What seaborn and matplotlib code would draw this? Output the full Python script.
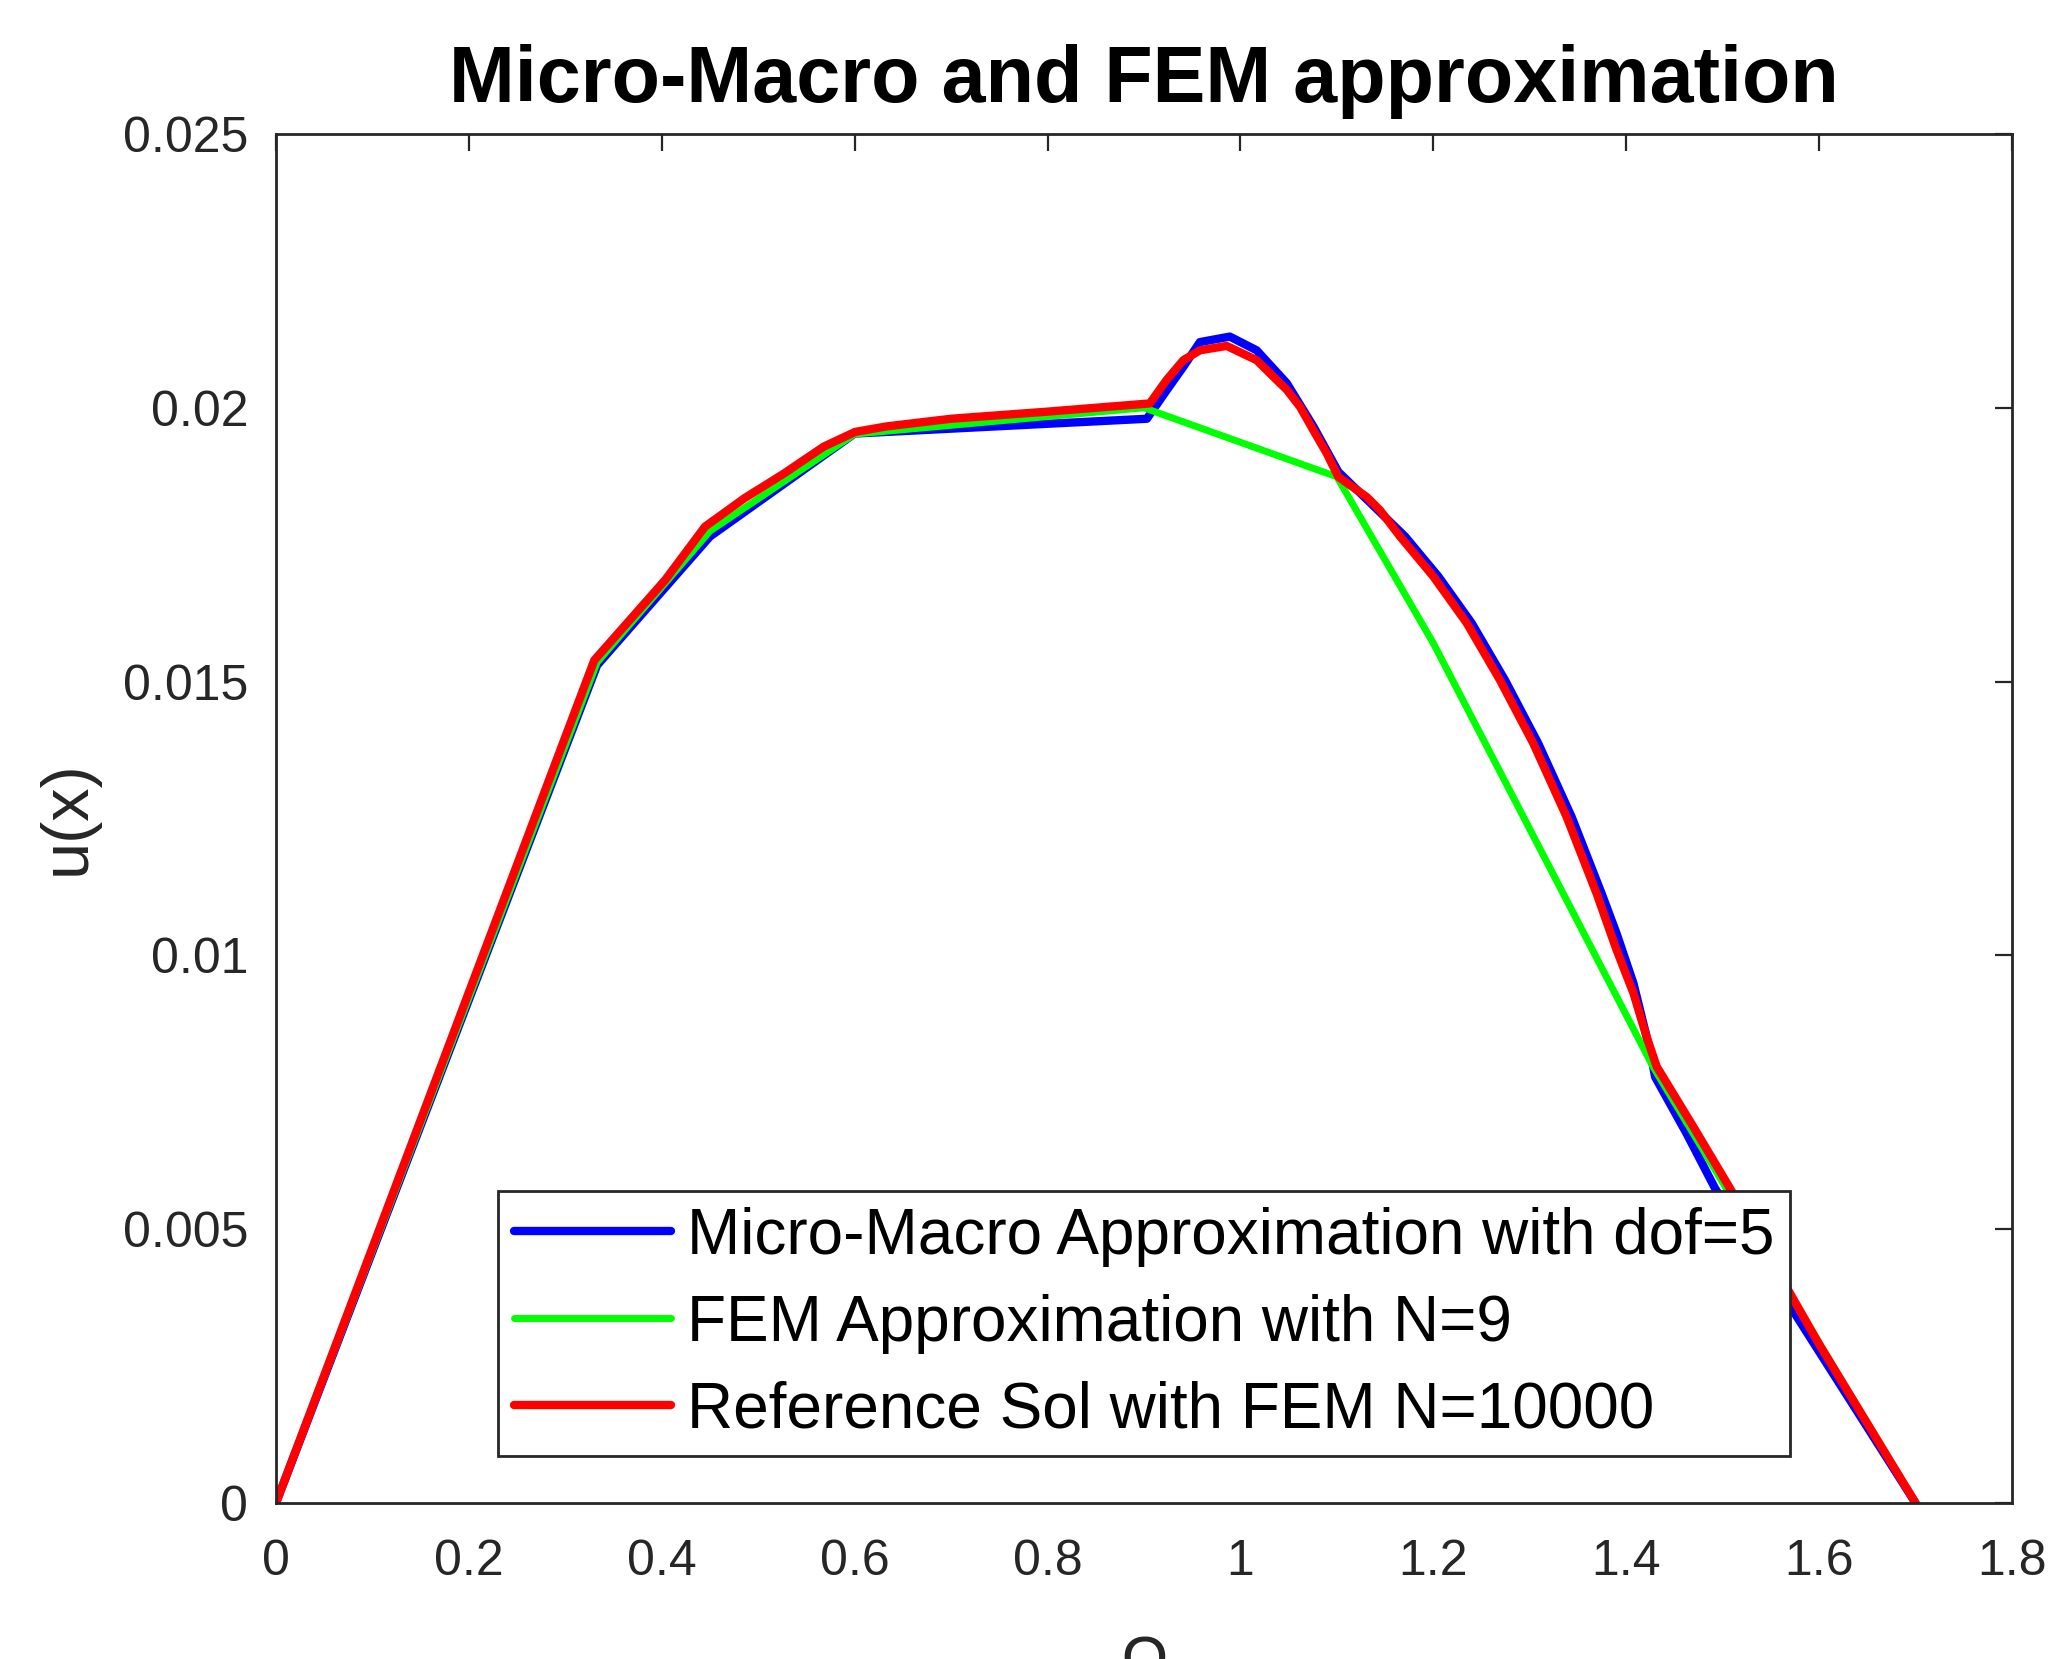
import numpy as np
import pandas as pd
import matplotlib
matplotlib.use("Agg")
import matplotlib.pyplot as plt
import seaborn as sns

# 数据
x_mm = [0, 0.333, 0.45, 0.6, 0.903, 0.9235, 0.9408, 0.958, 0.989, 1.0168, 1.048,
        1.0756, 1.1015, 1.1707, 1.2052, 1.2397, 1.2742, 1.3088, 1.3434, 1.3745, 1.390,
        1.4075, 1.4246, 1.430, 1.4625, 1.492, 1.7]
u_mm = [0, 0.0153, 0.01765, 0.01953, 0.0198, 0.02032, 0.02075, 0.0212, 0.0213, 0.02105, 0.02045,
        0.01966, 0.01883, 0.01765, 0.01692, 0.01607, 0.01503, 0.01387, 0.01253, 0.01113, 0.0104,
        0.00949, 0.00827, 0.00778, 0.00675, 0.00575, 0]

x_fem = [0, 0.333, 0.45, 0.6, 0.9, 1.1, 1.2, 1.428, 1.7]
u_fem = [0, 0.01535, 0.01775, 0.01952, 0.0200, 0.01874, 0.0157, 0.00796, 0]

x_ref = [0, 0.33, 0.4037, 0.4448, 0.4858, 0.5267, 0.5678, 0.6005, 0.633, 0.7, 0.8,
         0.906, 0.9235, 0.9408, 0.958, 0.9857, 1.0168, 1.034, 1.048, 1.0617, 1.0756, 1.0894,
         1.1015, 1.131, 1.1447, 1.1655, 1.2, 1.2346, 1.269, 1.3037, 1.3382, 1.3693,
         1.390, 1.4075, 1.421, 1.4316, 1.4696, 1.5075, 1.6, 1.7]
u_ref = [0, 0.01539, 0.01686, 0.01783, 0.01835, 0.0188, 0.01929, 0.01956, 0.01966, 0.0198, 0.01993,
         0.02008, 0.02051, 0.02087, 0.02105, 0.02113, 0.02087, 0.02057, 0.02033, 0.02002, 0.01959, 0.01917,
         0.01874, 0.01837, 0.01813, 0.01765, 0.01692, 0.01607, 0.01503, 0.01387, 0.01253, 0.01113,
         0.0101, 0.00931, 0.00852, 0.00797, 0.00687, 0.00575, 0.0029, 0]

labels = ["Micro-Macro Approximation with dof=5",
          "FEM Approximation with N=9",
          "Reference Sol with FEM N=10000"]
colors = ["#0000ff", "#00ff00", "#ff0000"]

xticks = [0, 0.2, 0.4, 0.6, 0.8, 1, 1.2, 1.4, 1.6, 1.8]
xtick_labels = ["0", "0.2", "0.4", "0.6", "0.8", "1", "1.2", "1.4", "1.6", "1.8"]
yticks = [0, 0.005, 0.01, 0.015, 0.02, 0.025]
ytick_labels = ["0", "0.005", "0.01", "0.015", "0.02", "0.025"]

sns.set_theme(style="white")
plt.rcParams["font.family"] = ["Liberation Sans", "DejaVu Sans"]

W, H = 2053, 1659
fig = plt.figure(figsize=(W / 100, H / 100), dpi=100)
ax = fig.add_axes([276 / W, 1 - 1503 / H, 1736 / W, 1369 / H])

dark = "#262626"

series = [(x_mm, u_mm, 6), (x_fem, u_fem, 5), (x_ref, u_ref, 6)]
for (xs, ys, lw), lab, col in zip(series, labels, colors):
    df = pd.DataFrame({"x": xs, "u": ys})
    sns.lineplot(data=df, x="x", y="u", sort=False, estimator=None,
                 color=col, linewidth=lw, label=lab, ax=ax)

ax.set_xlim(0, 1.8)
ax.set_ylim(0, 0.025)
ax.set_xticks(xticks)
ax.set_xticklabels(xtick_labels)
ax.set_yticks(yticks)
ax.set_yticklabels(ytick_labels)

for s in ax.spines.values():
    s.set_visible(True)
    s.set_color(dark)
    s.set_linewidth(2)

ax.tick_params(axis="both", direction="in", length=12, width=1.6, color=dark,
               labelcolor=dark, labelsize=36, top=True, right=True)
ax.tick_params(axis="x", pad=26)
ax.tick_params(axis="y", pad=20)

ax.set_title("Micro-Macro and FEM approximation", fontsize=57, fontweight="bold",
             color="black", pad=23)
ax.set_xlabel("Ω", fontsize=46, color=dark)
ax.xaxis.set_label_coords(0.5, -0.0964)
ax.xaxis.label.set_va("top")
ax.set_ylabel("")
fig.text(68 / W, 1 - 818 / H, "u(x)", rotation=90, ha="center", va="center",
         fontsize=48, color=dark)

leg = ax.legend(loc="lower left", bbox_to_anchor=(0.128, 0.034), fontsize=46,
                frameon=True, fancybox=False, framealpha=1, edgecolor=dark,
                handlelength=2.45, handletextpad=0.25, borderpad=0.25,
                labelspacing=0.42, borderaxespad=0)
leg.get_frame().set_linewidth(2)
for t in leg.get_texts():
    t.set_color("black")

fig.savefig("out.png", dpi=100, facecolor="white")
